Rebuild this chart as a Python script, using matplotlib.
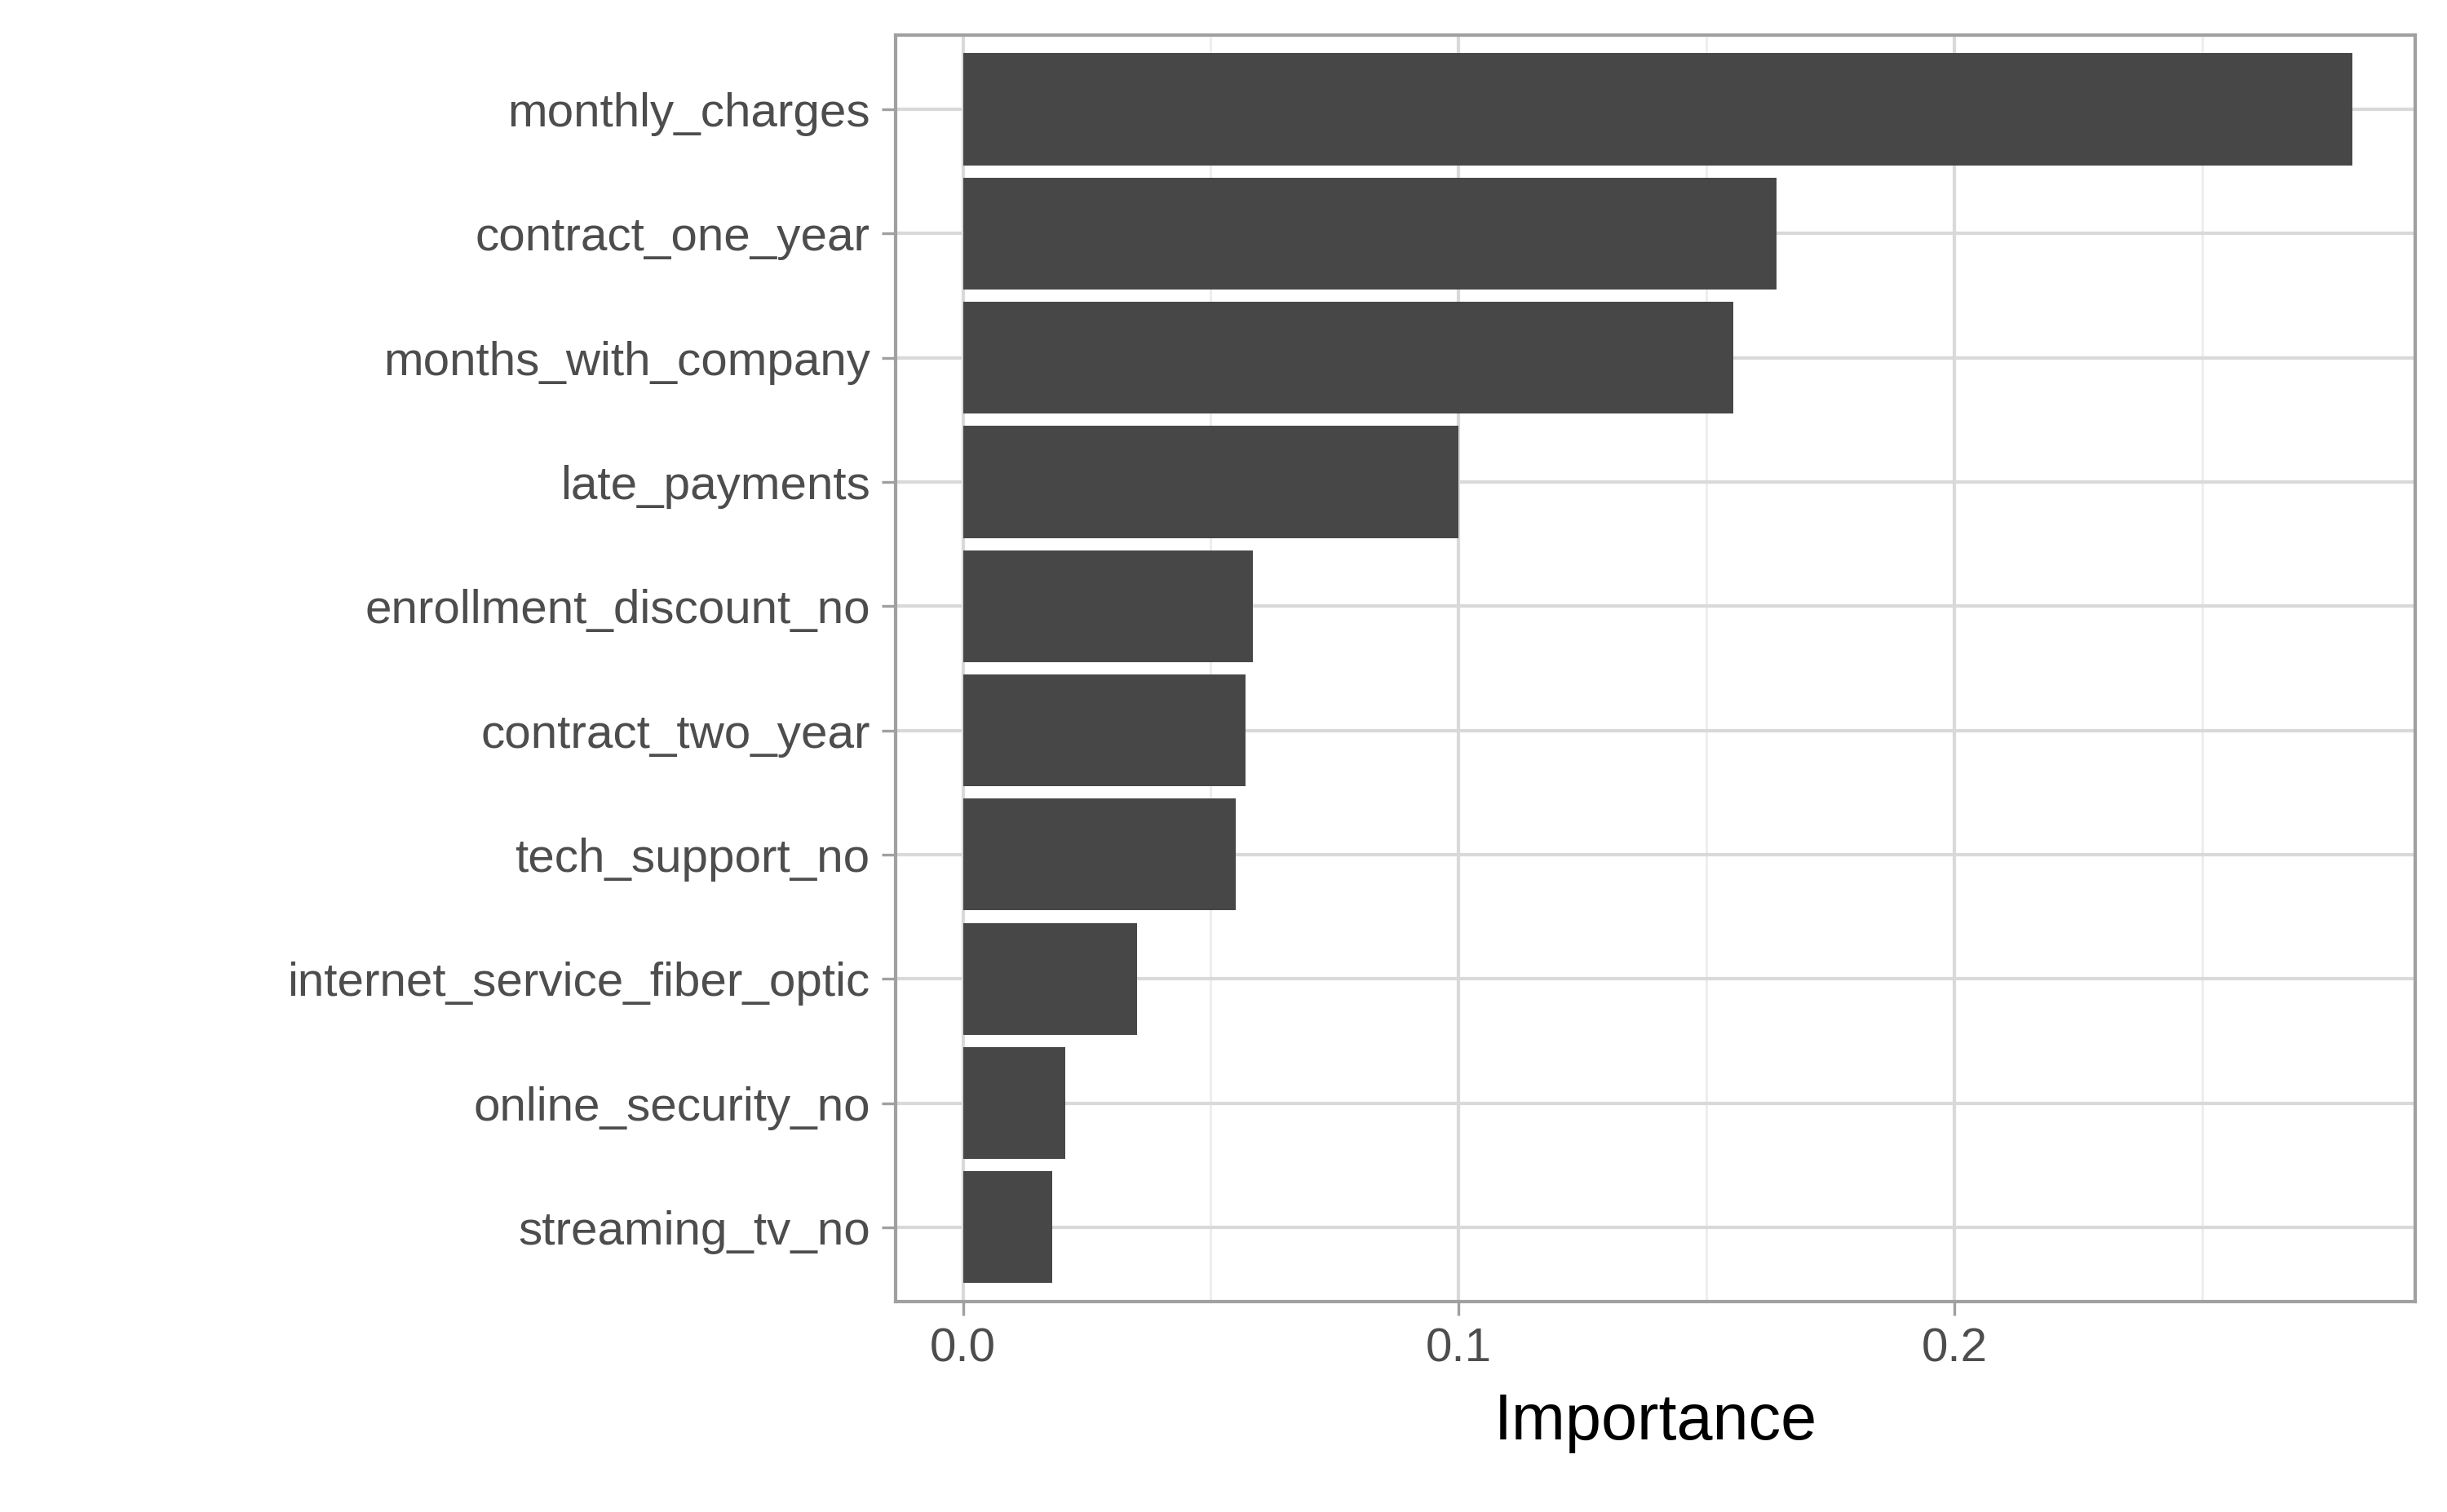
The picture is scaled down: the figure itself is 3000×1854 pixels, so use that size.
import matplotlib.pyplot as plt
from matplotlib.ticker import MultipleLocator

features = ["monthly_charges", "contract_one_year", "months_with_company", "late_payments",
            "enrollment_discount_no", "contract_two_year", "tech_support_no",
            "internet_service_fiber_optic", "online_security_no", "streaming_tv_no"]
importance = [0.2804, 0.1642, 0.1554, 0.1000, 0.0585, 0.0570, 0.0551, 0.0351, 0.0206, 0.0180]

plt.rcParams['font.family'] = ['Liberation Sans', 'DejaVu Sans']

fig = plt.figure(figsize=(10, 6.18), dpi=300)
ax = fig.add_axes([0.366, 0.139, 0.621, 0.838])

ypos = list(range(len(features)))[::-1]
ax.barh(ypos, importance, height=0.9, color='#474747', zorder=3)

ax.set_xlim(-0.0136, 0.293)
ax.set_ylim(-0.6, len(features) - 0.4)
ax.set_yticks(ypos)
ax.set_yticklabels(features)
ax.xaxis.set_major_locator(MultipleLocator(0.1))
ax.xaxis.set_minor_locator(MultipleLocator(0.05))
ax.set_xticks([0.0, 0.1, 0.2])
ax.set_xticklabels(["0.0", "0.1", "0.2"])

ax.grid(which='major', color='#D9D9D9', linewidth=1.0, zorder=0)
ax.grid(which='minor', axis='x', color='#EBEBEB', linewidth=0.6, zorder=0)
ax.tick_params(which='major', colors='#A0A0A0', length=4, width=0.8, labelcolor='#4D4D4D', labelsize=14)
ax.tick_params(which='minor', length=0)
for s in ax.spines.values():
    s.set_color('#A0A0A0')
    s.set_linewidth(1.0)

ax.set_xlabel("Importance", fontsize=19, color='black', labelpad=6)

fig.savefig("out.png", dpi=300)
